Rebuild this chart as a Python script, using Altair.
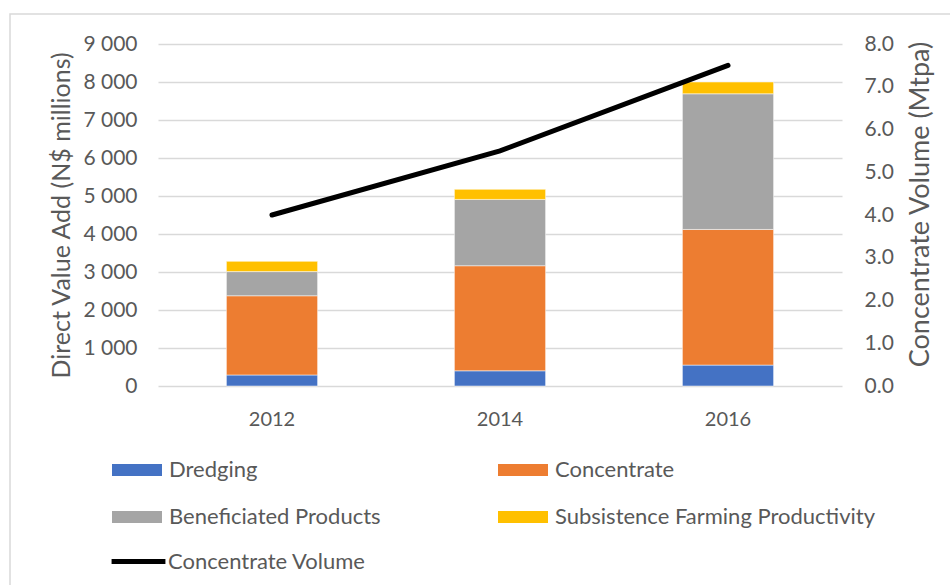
import altair as alt
import pandas as pd

years = ["2012", "2014", "2016"]
series = ["Dredging", "Concentrate", "Beneficiated Products", "Subsistence Farming Productivity"]
dredging = [290, 400, 550]
concentrate = [2085, 2765, 3570]
beneficiated = [635, 1745, 3570]
subsistence = [270, 265, 310]
volume = [4.0, 5.5, 7.5]
colors = ["#4472C4", "#ED7D31", "#A5A5A5", "#FFC000"]
left_ticks = [0, 1000, 2000, 3000, 4000, 5000, 6000, 7000, 8000, 9000]
right_ticks = [0, 1, 2, 3, 4, 5, 6, 7, 8]

rows = []
for i, y in enumerate(years):
    for k, (name, vals) in enumerate(zip(series, [dredging, concentrate, beneficiated, subsistence])):
        rows.append({"year": y, "series": name, "value": vals[i], "order": k})
bars_df = pd.DataFrame(rows)
line_df = pd.DataFrame({"year": years, "volume": volume, "label": ["Concentrate Volume"] * 3})

FONT = "Lato"
GREY = "#595959"

xenc = alt.X("year:O", scale=alt.Scale(paddingInner=0.6, paddingOuter=0.3),
             axis=alt.Axis(title=None, labelAngle=0, domain=False, ticks=False,
                           labelPadding=23, labelFontSize=20, labelColor=GREY, labelFont=FONT))

bars = alt.Chart(bars_df).mark_bar(stroke="white", strokeWidth=0.5).encode(
    x=xenc,
    y=alt.Y("value:Q", stack="zero",
            scale=alt.Scale(domain=[0, 9000], nice=False),
            axis=alt.Axis(title="Direct Value Add (N$ millions)", values=left_ticks,
                          labelExpr="replace(format(datum.value, ','), ',', ' ')",
                          domain=False, ticks=False, labelPadding=21,
                          labelFontSize=21, labelColor=GREY, labelFont=FONT,
                          titleFontSize=25, titleFontWeight="normal", titleColor=GREY,
                          titleFont=FONT, titlePadding=8,
                          grid=True, gridColor="#D9D9D9", gridWidth=1.3)),
    color=alt.Color("series:N", scale=alt.Scale(domain=series, range=colors),
                    legend=alt.Legend(title=None, orient="none", legendX=-46, legendY=401,
                                      columns=2, direction="horizontal", columnPadding=117,
                                      rowPadding=11, labelLimit=500,
                                      symbolType="M-1,-0.24H1V0.24H-1Z", symbolSize=2500,
                                      symbolStrokeWidth=0, symbolOpacity=1,
                                      labelFontSize=22, labelColor=GREY, labelFont=FONT,
                                      labelOffset=7, padding=0)),
    order=alt.Order("order:Q", sort="ascending"),
)

line = alt.Chart(line_df).mark_line(strokeWidth=5, strokeCap="round").encode(
    x=alt.X("year:O"),
    y=alt.Y("volume:Q", scale=alt.Scale(domain=[0, 8], nice=False),
            axis=alt.Axis(title="Concentrate Volume (Mtpa)", orient="right", values=right_ticks,
                          format=".1f", domain=False, ticks=False, grid=False, labelPadding=22,
                          labelFontSize=21, labelColor=GREY, labelFont=FONT,
                          titleFontSize=27, titleFontWeight="normal", titleColor=GREY,
                          titleFont=FONT, titlePadding=14, titleAngle=270,
                          titleBaseline="top", titleY=160)),
    stroke=alt.Stroke("label:N", scale=alt.Scale(domain=["Concentrate Volume"], range=["#000000"]),
                      legend=alt.Legend(title=None, orient="none", legendX=-49, legendY=488,
                                        symbolType="M-1,0H1", symbolSize=2900, labelLimit=500,
                                        symbolStrokeWidth=5, labelFontSize=22, labelColor=GREY,
                                        labelFont=FONT, labelOffset=0, padding=0)),
)

frame = alt.Chart(alt.Data(values=[{"a": 1}])).mark_rect(
    fill="transparent", stroke="#D9D9D9", strokeWidth=1.5
).encode(x=alt.value(-148), x2=alt.value(800), y=alt.value(-30), y2=alt.value(560))

chart = alt.layer(frame, bars, line).resolve_scale(y="independent").properties(
    width=684, height=342,
    autosize=alt.AutoSizeParams(type="none"),
    padding={"left": 158, "top": 44, "right": 108, "bottom": 199},
    background="white",
).configure_view(stroke=None)

chart.save("out.html", embed_options={"renderer": "svg", "actions": False})
